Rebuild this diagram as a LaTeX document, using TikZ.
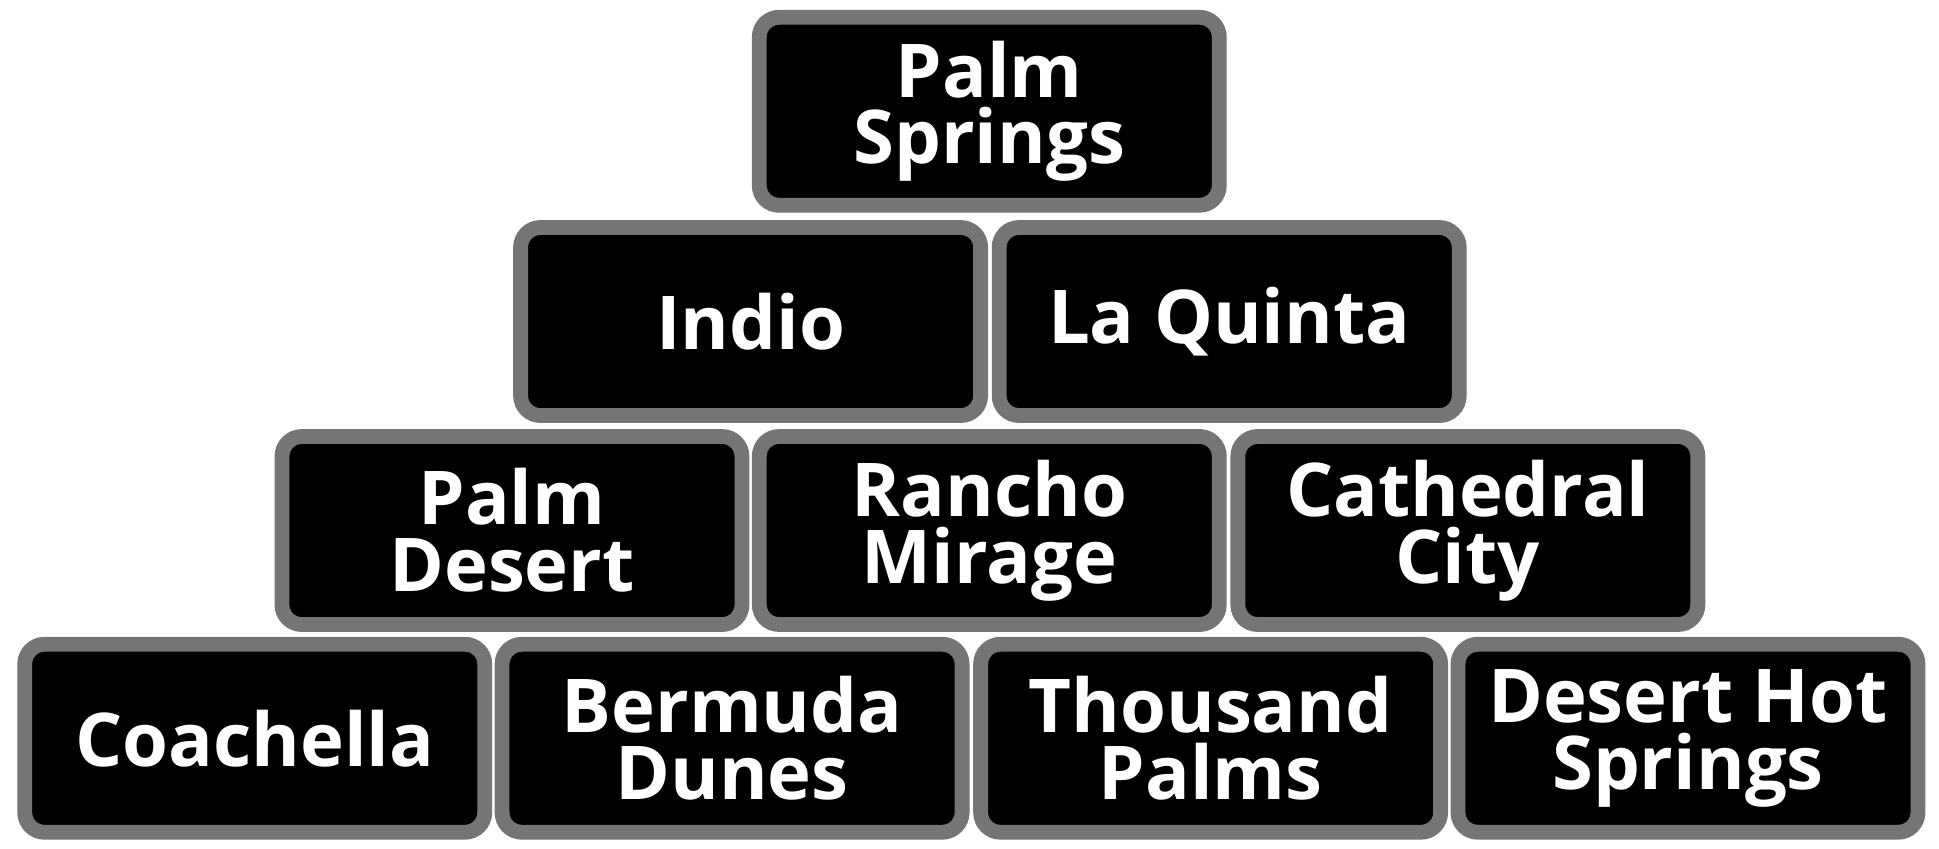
\documentclass[tikz,border=0pt]{standalone}
\usepackage{fontspec}
\setmainfont{Open Sans}
\begin{document}
\begin{tikzpicture}[x=0.5pt,y=-0.5pt,
  cell/.style={draw=black!54,fill=black,line width=6pt,rounded corners=8pt,
    minimum width=186pt,minimum height=76pt,inner sep=0pt,text=white,align=center,
    font=\fontsize{30}{27}\selectfont\bfseries}]
\useasboundingbox (0,0) rectangle (1568,686);
\node[cell] (ps) at (800,90) {Palm\\Springs};
\node[cell] (in) at (607,260) {Indio};
\node[cell] (lq) at (994,260) {La Quinta};
\node[cell] (pd) at (414,429) {Palm\\Desert};
\node[cell] (rm) at (800,429) {Rancho\\Mirage};
\node[cell] (cc) at (1187,429) {Cathedral\\City};
\node[cell] (co) at (206,597) {Coachella};
\node[cell] (bd) at (592,597) {Bermuda\\Dunes};
\node[cell] (tp) at (979,597) {Thousand\\Palms};
\node[cell] (dh) at (1365,597) {Desert Hot\\Springs};
\end{tikzpicture}
\end{document}
